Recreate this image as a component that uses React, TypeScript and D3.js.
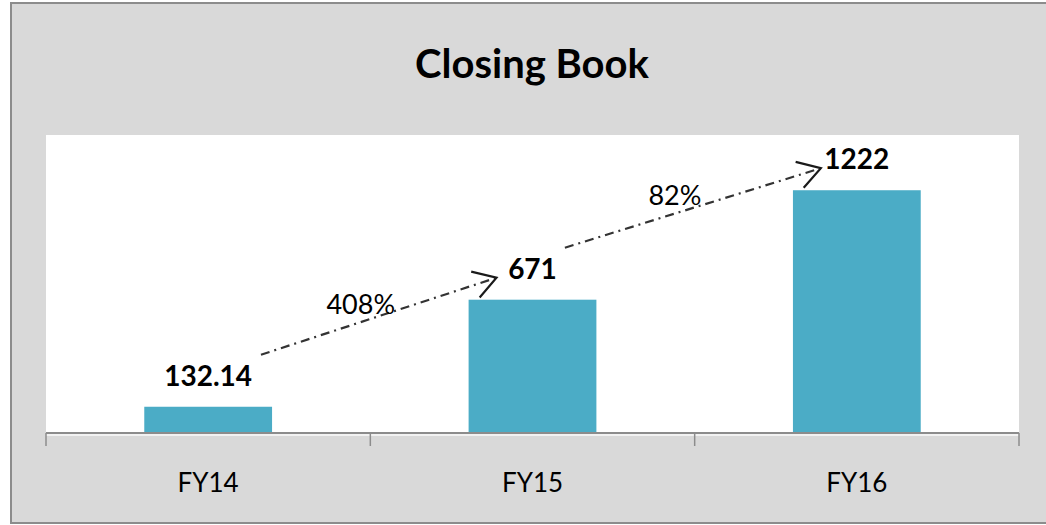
import * as React from "react";
import * as d3 from "d3";

const categories = ["FY14", "FY15", "FY16"];
const closingBook = [132.14, 671, 1222];
const valueLabels = ["132.14", "671", "1222"];
const growthLabels = ["408%", "82%"];

const W = 1046;
const H = 525;
const plot = { left: 46, right: 1019, top: 135, bottom: 433 };
const FONT = "Lato, 'Open Sans', sans-serif";

const App = () => {
    const x = d3.scaleBand<string>()
        .domain(categories)
        .range([plot.left, plot.right])
        .paddingInner(0.606)
        .paddingOuter(0.303);

    const y = d3.scaleLinear()
        .domain([0, 1500])
        .range([plot.bottom, plot.top]);

    const cx = (c: string) => (x(c) as number) + x.bandwidth() / 2;
    const step = x.step();
    const ticks = d3.range(categories.length + 1).map(i => plot.left + i * step);

    // arrows between consecutive data labels
    const arrows = growthLabels.map((g, i) => {
        const a = categories[i], b = categories[i + 1];
        const x0 = cx(a) + valueLabels[i].length * 6.8 + 12;
        const y0 = y(closingBook[i]) - 52;
        const x1 = cx(b) - 36;
        const y1 = y(closingBook[i + 1]) - 22;
        const ang = Math.atan2(y1 - y0, x1 - x0);
        const head = 26;
        const h1 = [x1 - head * Math.cos(ang - 0.55), y1 - head * Math.sin(ang - 0.55)];
        const h2 = [x1 - head * Math.cos(ang + 0.55), y1 - head * Math.sin(ang + 0.55)];
        return { g, x0, y0, x1, y1, h1, h2 };
    });

    return (
        <svg width={W} height={H} style={{ position: "absolute", left: 0, top: 0 }}>
            <rect x={11} y={3} width={W} height={520} fill="#d9d9d9" stroke="#8c8c8c" strokeWidth={2} />
            <rect x={plot.left} y={plot.top} width={plot.right - plot.left} height={plot.bottom - plot.top} fill="#ffffff" />
            <text x={532} y={63} textAnchor="middle" dominantBaseline="central"
                fontFamily={FONT} fontWeight="bold" fontSize={40} fill="#000">Closing Book</text>

            {categories.map((c, i) => (
                <rect key={c} x={x(c)} y={y(closingBook[i])} width={x.bandwidth()}
                    height={plot.bottom - y(closingBook[i])} fill="#4bacc6" />
            ))}

            <line x1={plot.left} x2={plot.right} y1={plot.bottom} y2={plot.bottom} stroke="#8c8c8c" strokeWidth={2} />
            <line x1={plot.left} x2={plot.right} y1={plot.bottom + 2} y2={plot.bottom + 2} stroke="#f2f2f2" strokeWidth={2} />
            {ticks.map((t, i) => (
                <line key={i} x1={t} x2={t} y1={plot.bottom} y2={plot.bottom + 13} stroke="#8c8c8c" strokeWidth={1.5} />
            ))}
            {categories.map(c => (
                <text key={c} x={cx(c)} y={482} textAnchor="middle" dominantBaseline="central"
                    fontFamily={FONT} fontSize={26} fill="#000">{c}</text>
            ))}

            {categories.map((c, i) => (
                <text key={c} x={cx(c)} y={y(closingBook[i]) - 32} textAnchor="middle" dominantBaseline="central"
                    fontFamily={FONT} fontWeight="bold" fontSize={28} fill="#000">{valueLabels[i]}</text>
            ))}

            {arrows.map((a, i) => (
                <g key={i}>
                    <line x1={a.x0} y1={a.y0} x2={a.x1} y2={a.y1} stroke="#333" strokeWidth={2.2}
                        strokeDasharray="9 5 2 5" />
                    <polyline points={`${a.h1[0]},${a.h1[1]} ${a.x1},${a.y1} ${a.h2[0]},${a.h2[1]}`}
                        fill="none" stroke="#1a1a1a" strokeWidth={2.2} />
                    <text x={(a.x0 + a.x1) / 2 - 18} y={(a.y0 + a.y1) / 2 - 13} textAnchor="middle" dominantBaseline="central"
                        fontFamily={FONT} fontSize={27} fill="#000">{a.g}</text>
                </g>
            ))}
        </svg>
    );
};

export default App;
